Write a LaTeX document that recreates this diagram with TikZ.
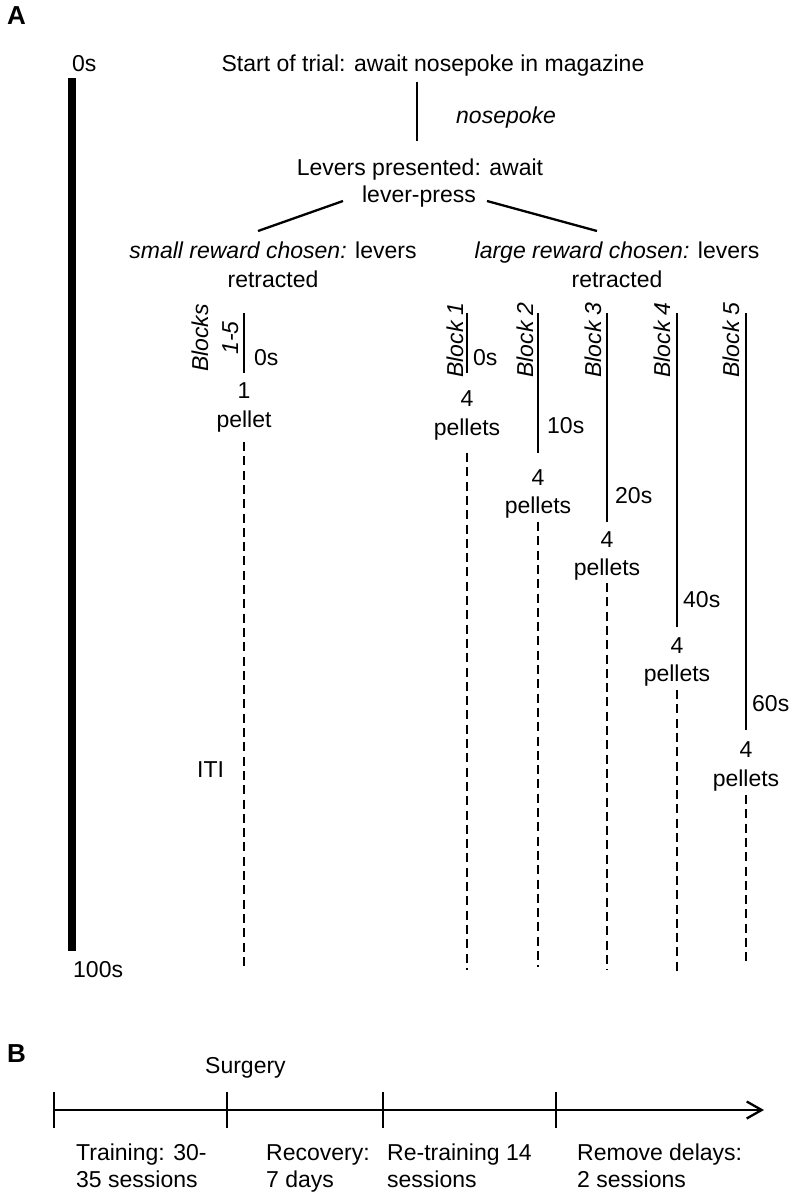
\documentclass[tikz,border=0pt]{standalone}
\usepackage{fontspec}
\setmainfont{Liberation Sans}
\usetikzlibrary{arrows.meta}
\begin{document}
\begin{tikzpicture}[x=1pt,y=-1pt,
  txt/.style={font=\fontsize{23}{28}\selectfont, inner sep=0pt, anchor=base},
  lbl/.style={txt, anchor=base west},
  itl/.style={lbl, font=\fontsize{23}{28}\selectfont\itshape},
  panel/.style={inner sep=0pt, anchor=base west, font=\fontsize{26}{30}\selectfont\bfseries},
  blk/.style={inner sep=0pt, rotate=90, anchor=center, align=center, font=\fontsize{23}{30}\selectfont\itshape},
  conn/.style={line width=2.3pt},
  iti/.style={line width=2.2pt, dash pattern=on 9pt off 5.3pt},
  bar/.style={line width=8pt}]
\useasboundingbox (0,0) rectangle (794,1199);

% ---------- Panel A ----------
\node[panel] (A) at (7,25) {A};
\node[lbl] (t0) at (72,71) {0s};
\coordinate (bartop) at (71.5,78);
\coordinate (barbot) at (71.5,951);
\draw[bar] (bartop) -- (barbot);
\node[lbl] (t100) at (73,977) {100s};

\node[txt] (start) at (433,71) {Start of trial: await nosepoke in magazine};
\coordinate (npa) at (417,82);
\coordinate (npb) at (417,141);
\draw[conn] (npa) -- (npb);
\node[itl] (np) at (456,123) {nosepoke};

\node[txt] (lev1) at (420,175) {Levers presented: await};
\node[txt] (lev2) at (419,202) {lever-press};
\coordinate (dl1) at (343,201);
\coordinate (dl2) at (258,231);
\coordinate (dr1) at (487,201);
\coordinate (dr2) at (597,231);
\draw[conn] (dl1) -- (dl2);
\draw[conn] (dr1) -- (dr2);

\node[txt] (sm1) at (273,258) {\textit{small reward chosen:} levers};
\node[txt] (sm2) at (273,287) {retracted};
\node[txt] (lg1) at (617,258) {\textit{large reward chosen:} levers};
\node[txt] (lg2) at (617,287) {retracted};

% Blocks 1-5 (small reward)
\node[blk] (bs) at (215,338) {Blocks\\1-5};
\coordinate (s-t) at (244,313);
\coordinate (s-m) at (244,373);
\draw[conn] (s-t) -- (s-m);
\node[lbl] (s-d) at (254,365) {0s};
\node[txt] (s-p1) at (244,398) {1};
\node[txt] (s-p2) at (244,427) {pellet};
\coordinate (s-a) at (244,442);
\coordinate (s-e) at (244,967);
\draw[iti] (s-a) -- (s-e);
\node[lbl] (iti) at (197,777) {ITI};

% Block 1
\node[blk] (bl1) at (455,340) {Block 1};
\coordinate (b1-t) at (467,313);
\coordinate (b1-m) at (467,373);
\draw[conn] (b1-t) -- (b1-m);
\node[lbl] (b1-d) at (473,365) {0s};
\node[txt] (b1-p1) at (467,406) {4};
\node[txt] (b1-p2) at (467,435) {pellets};
\coordinate (b1-a) at (467,453);
\coordinate (b1-e) at (467,970);
\draw[iti] (b1-a) -- (b1-e);

% Block 2
\node[blk] (bl2) at (525,340) {Block 2};
\coordinate (b2-t) at (538,313);
\coordinate (b2-m) at (538,453);
\draw[conn] (b2-t) -- (b2-m);
\node[lbl] (b2-d) at (547,433) {10s};
\node[txt] (b2-p1) at (538,485) {4};
\node[txt] (b2-p2) at (538,513) {pellets};
\coordinate (b2-a) at (538,522);
\coordinate (b2-e) at (538,967);
\draw[iti] (b2-a) -- (b2-e);

% Block 3
\node[blk] (bl3) at (593,340) {Block 3};
\coordinate (b3-t) at (607,313);
\coordinate (b3-m) at (607,522);
\draw[conn] (b3-t) -- (b3-m);
\node[lbl] (b3-d) at (615,503) {20s};
\node[txt] (b3-p1) at (607,547) {4};
\node[txt] (b3-p2) at (607,575) {pellets};
\coordinate (b3-a) at (607,583);
\coordinate (b3-e) at (607,970);
\draw[iti] (b3-a) -- (b3-e);

% Block 4
\node[blk] (bl4) at (662,340) {Block 4};
\coordinate (b4-t) at (677,313);
\coordinate (b4-m) at (677,627);
\draw[conn] (b4-t) -- (b4-m);
\node[lbl] (b4-d) at (683,607) {40s};
\node[txt] (b4-p1) at (677,653) {4};
\node[txt] (b4-p2) at (677,681) {pellets};
\coordinate (b4-a) at (677,690);
\coordinate (b4-e) at (677,972);
\draw[iti] (b4-a) -- (b4-e);

% Block 5
\node[blk] (bl5) at (731,340) {Block 5};
\coordinate (b5-t) at (746,313);
\coordinate (b5-m) at (746,730);
\draw[conn] (b5-t) -- (b5-m);
\node[lbl] (b5-d) at (752,711) {60s};
\node[txt] (b5-p1) at (746,757) {4};
\node[txt] (b5-p2) at (746,786) {pellets};
\coordinate (b5-a) at (746,795);
\coordinate (b5-e) at (746,965);
\draw[iti] (b5-a) -- (b5-e);

% ---------- Panel B ----------
\node[panel] (B) at (7,1062) {B};
\node[lbl] (surg) at (205,1073) {Surgery};
\coordinate (ax0) at (54,1110);
\coordinate (ax1) at (764,1110);
\draw[conn, -{Straight Barb[length=15pt,width=17pt]}] (ax0) -- (ax1);
\foreach \x/\n in {54/k0, 227/k1, 383/k2, 556/k3} {
  \coordinate (\n-t) at (\x,1092);
  \coordinate (\n-b) at (\x,1128);
  \draw[conn] (\n-t) -- (\n-b);
}
\node[lbl] (tr1) at (76,1160) {Training: 30-};
\node[lbl] (tr2) at (76,1187) {35 sessions};
\node[lbl] (rc1) at (266,1160) {Recovery:};
\node[lbl] (rc2) at (266,1187) {7 days};
\node[lbl] (rt1) at (387,1160) {Re-training 14};
\node[lbl] (rt2) at (387,1187) {sessions};
\node[lbl] (rd1) at (577,1160) {Remove delays:};
\node[lbl] (rd2) at (577,1187) {2 sessions};
\end{tikzpicture}
\end{document}
